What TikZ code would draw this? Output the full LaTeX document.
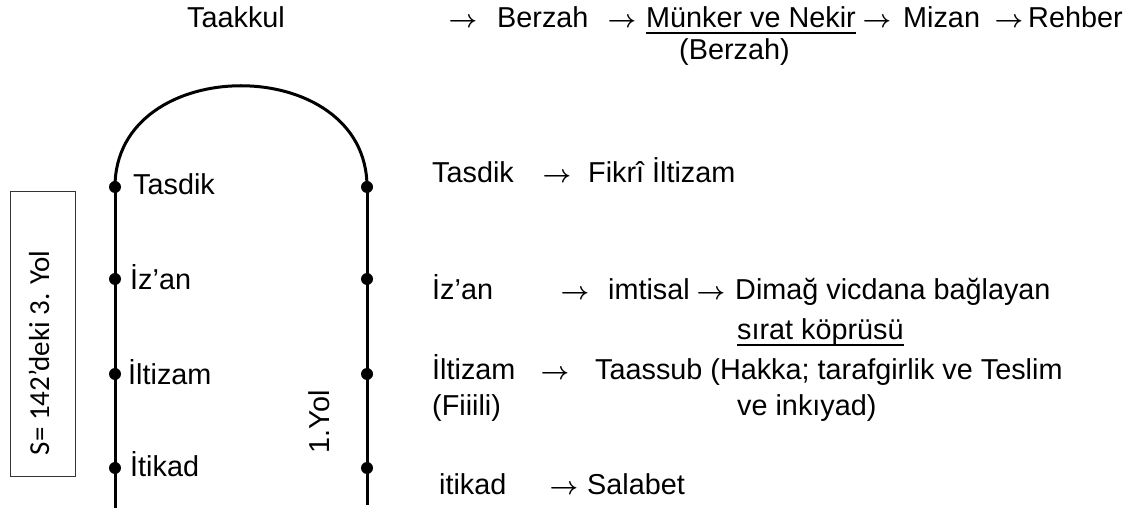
\documentclass[tikz,border=0pt]{standalone}
\usepackage{fontspec}
\setmainfont{Liberation Sans}
\newfontfamily\boxfont{Carlito}
\usepackage{tikz}
\usetikzlibrary{positioning}
\newcommand{\goes}{$\rightarrow$}
\tikzset{%
	word/.style={%
		inner sep=0,
		anchor=base west,
		font=\fontsize{28.8}{34}\selectfont
	},
	pointer/.style={%
		inner sep=0,
		anchor=base,
		font=\boldmath\fontsize{27}{30}\selectfont
	},
	dot/.style={%
		circle,
		fill,
		inner sep=0,
		minimum size=12pt
	},
	track/.style={%
		line width=3pt
	},
	rule/.style={%
		line width=1.6pt
	}
}

\begin{document}
\begin{tikzpicture}[x=1pt, y=-1pt]
	\useasboundingbox (0,0) rectangle (1144,510);
	% top line
	\node [word] (taakkul) at (187,28) {Taakkul};
	\node [pointer] (p1) at (463,28) {\goes};
	\node [word] (berzah) at (497,28) {Berzah};
	\node [pointer] (p2) at (622,28) {\goes};
	\node [word] (munker) at (646,28) {Münker ve Nekir};
	\node [pointer] (p3) at (877,28) {\goes};
	\node [word] (mizan) at (903,28) {Mizan};
	\node [pointer] (p4) at (1009,28) {\goes};
	\node [word] (rehber) at (1028,28) {Rehber};
	\node [word] (berzahb) at (679,60) {(Berzah)};
	\draw [rule] ([yshift=-5pt]munker.base west) -- ([yshift=-5pt]munker.base east);
	% the two ways
	\node [dot] (l1) at (115,187) {};
	\node [dot] (l2) at (115,279) {};
	\node [dot] (l3) at (115,374) {};
	\node [dot] (l4) at (115,468) {};
	\node [dot] (r1) at (367,187) {};
	\node [dot] (r2) at (367,279) {};
	\node [dot] (r3) at (367,374) {};
	\node [dot] (r4) at (367,468) {};
	\coordinate (lfoot) at (115,508);
	\coordinate (rfoot) at (367,505);
	\draw [track] (l1.center) .. controls +(0,-135) and +(0,-135) .. (r1.center);
	\draw [track] (l1.center) -- (l2.center) -- (l3.center) -- (l4.center) -- (lfoot);
	\draw [track] (r1.center) -- (r2.center) -- (r3.center) -- (r4.center) -- (rfoot);
	\node [word] (ltasdik) at (133,195) {Tasdik};
	\node [word] (lizan) at (130,290) {İz’an};
	\node [word] (liltizam) at (128,385) {İltizam};
	\node [word] (litikad) at (130,477) {İtikad};
	\node [rotate=90, font=\fontsize{28.8}{34}\selectfont] (yol) at (319,422) {1.Yol};
	% box on the left
	\draw [line width=0.8pt, black!80] (10,191) rectangle (75,476);
	\node [rotate=90, font=\boxfont\fontsize{29}{34}\selectfont] (third) at (39,353) {S= 142’deki 3. Yol};
	% right side
	\node [word] (rtasdik) at (432,183) {Tasdik};
	\node [pointer] (q1) at (557,183) {\goes};
	\node [word] (fikri) at (588,183) {Fikrî İltizam};
	\node [word] (rizan) at (432,300) {İz’an};
	\node [pointer] (q2) at (575,300) {\goes};
	\node [word] (imtisal) at (608,300) {imtisal};
	\node [pointer] (q3) at (711,300) {\goes};
	\node [word] (dimag) at (735,300) {Dimağ vicdana bağlayan};
	\node [word] (sirat) at (737,340) {sırat köprüsü};
	\draw [rule] ([yshift=-5pt]sirat.base west) -- ([yshift=-5pt]sirat.base east);
	\node [word] (riltizam) at (432,380) {İltizam};
	\node [pointer] (q4) at (555,380) {\goes};
	\node [word] (taassub) at (595,380) {Taassub (Hakka; tarafgirlik ve Teslim};
	\node [word] (fiiili) at (432,416) {(Fiiili)};
	\node [word] (inkiyad) at (737,416) {ve inkıyad)};
	\node [word] (ritikad) at (439,495) {itikad};
	\node [pointer] (q5) at (564,495) {\goes};
	\node [word] (salabet) at (587,495) {Salabet};
\end{tikzpicture}
\end{document}
